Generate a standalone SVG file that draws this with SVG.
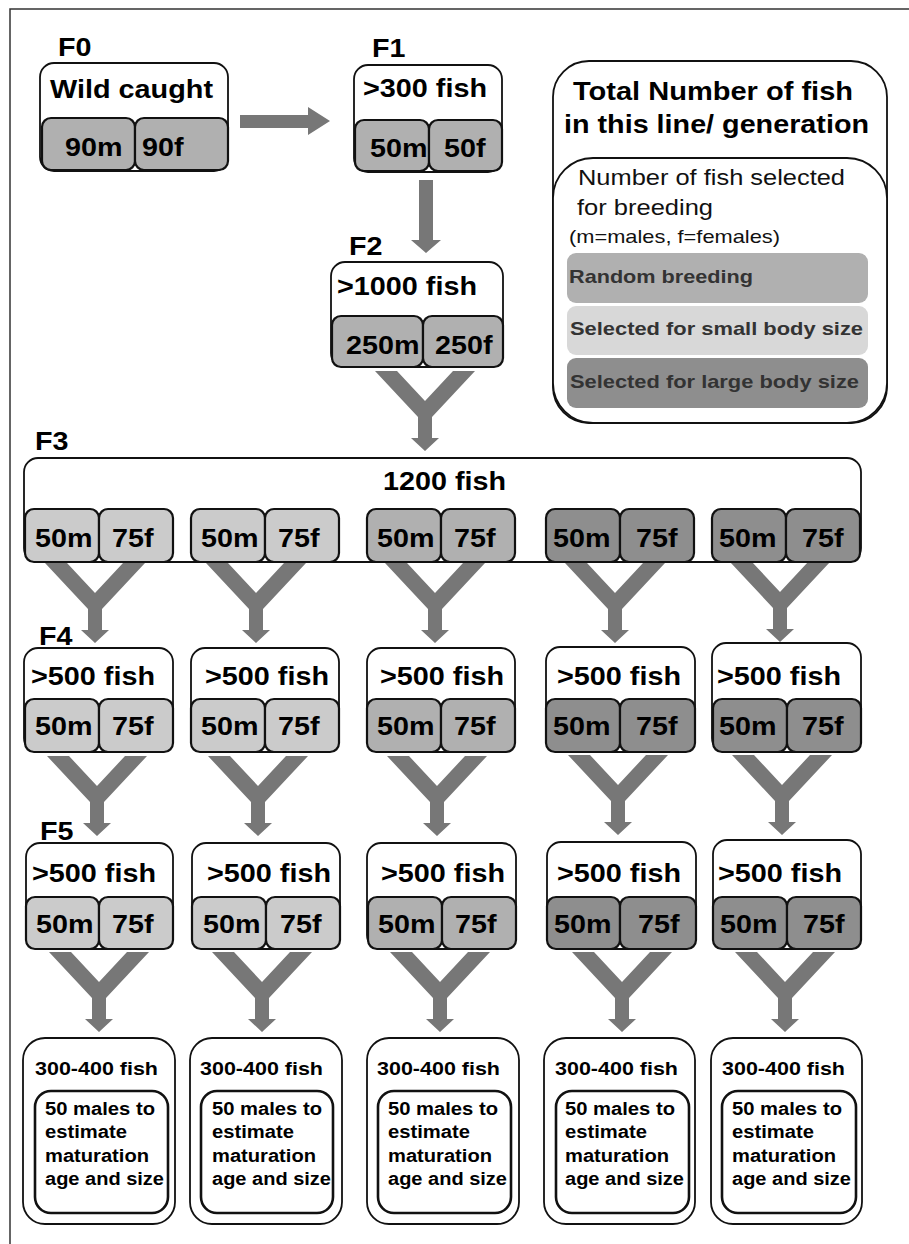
<svg xmlns="http://www.w3.org/2000/svg" xmlns:xlink="http://www.w3.org/1999/xlink" width="909" height="1244" viewBox="0 0 909 1244">
<style>
.bg{fill:#fff}
.frame{stroke:#333;stroke-width:1.5;fill:none}
.box{fill:#fff;stroke:#111;stroke-width:1.8}
.cell{stroke:#111;stroke-width:2.2}
.med{fill:#b0b0b0}
.lt{fill:#cbcbcb}
.dk{fill:#8e8e8e}
.lmed{fill:#b0b0b0}
.llt{fill:#d8d8d8}
.ldk{fill:#8e8e8e}
.inner{fill:none;stroke:#111;stroke-width:2.6}
.t{font-family:"Liberation Sans",Arial,sans-serif;font-weight:bold;fill:#000}
.r{font-family:"Liberation Sans",Arial,sans-serif;font-weight:normal;fill:#111}
.s25{font-size:25px}
.s19{font-size:19px}
.s17{font-size:17.5px}
.lg{fill:#333}
.conn{fill:#777}
</style>
<defs>
<path id="yconn" d="M-50,0 L-28,0 L0,30 L28,0 L50,0 L7,46 L7,67 L14,67 L0,80 L-14,67 L-7,67 L-7,46 Z"/>
</defs>
<rect class="bg" x="0" y="0" width="909" height="1244"/>
<path class="frame" d="M909,9 H10 V1244"/>

<g id="connectors" class="conn">
<polygon points="240,115 308,115 308,107 330,121 308,135 308,128 240,128"/>
<polygon points="419,180 433,180 433,240 441,240 426,253 411,240 419,240"/>
<use xlink:href="#yconn" href="#yconn" x="425" y="371"/>
<use xlink:href="#yconn" href="#yconn" x="95" y="563"/>
<use xlink:href="#yconn" href="#yconn" x="256" y="563"/>
<use xlink:href="#yconn" href="#yconn" x="435" y="563"/>
<use xlink:href="#yconn" href="#yconn" x="615" y="563"/>
<use xlink:href="#yconn" href="#yconn" x="780" y="562"/>
<use xlink:href="#yconn" href="#yconn" x="97" y="756"/>
<use xlink:href="#yconn" href="#yconn" x="258" y="756"/>
<use xlink:href="#yconn" href="#yconn" x="437" y="756"/>
<use xlink:href="#yconn" href="#yconn" x="618" y="755"/>
<use xlink:href="#yconn" href="#yconn" x="782" y="755"/>
<use xlink:href="#yconn" href="#yconn" x="99" y="952"/>
<use xlink:href="#yconn" href="#yconn" x="262" y="952"/>
<use xlink:href="#yconn" href="#yconn" x="440" y="952"/>
<use xlink:href="#yconn" href="#yconn" x="622" y="952"/>
<use xlink:href="#yconn" href="#yconn" x="785" y="952"/>
</g>

<g id="F0">
<text class="t s25" x="58" y="56" textLength="33.5" lengthAdjust="spacingAndGlyphs">F0</text>
<rect class="box" x="40" y="63" width="188" height="108" rx="14"/>
<text class="t s25" x="50" y="98" textLength="163" lengthAdjust="spacingAndGlyphs">Wild caught</text>
<rect class="cell med" x="42" y="118" width="93" height="52" rx="9"/>
<rect class="cell med" x="135" y="118" width="93" height="52" rx="9"/>
<text class="t s25" x="65" y="156" textLength="57.5" lengthAdjust="spacingAndGlyphs">90m</text>
<text class="t s25" x="142" y="156" textLength="41.5" lengthAdjust="spacingAndGlyphs">90f</text>
</g>

<g id="F1">
<text class="t s25" x="372" y="57" textLength="33.5" lengthAdjust="spacingAndGlyphs">F1</text>
<rect class="box" x="354" y="65" width="148" height="107" rx="14"/>
<text class="t s25" x="363" y="97" textLength="124" lengthAdjust="spacingAndGlyphs">&gt;300 fish</text>
<rect class="cell med" x="355" y="120" width="74" height="51" rx="9"/>
<rect class="cell med" x="429" y="120" width="73" height="51" rx="9"/>
<text class="t s25" x="370" y="157" textLength="57.5" lengthAdjust="spacingAndGlyphs">50m</text>
<text class="t s25" x="444" y="157" textLength="41.5" lengthAdjust="spacingAndGlyphs">50f</text>
</g>

<g id="F2">
<text class="t s25" x="349" y="255" textLength="33.5" lengthAdjust="spacingAndGlyphs">F2</text>
<rect class="box" x="331" y="262" width="172" height="105" rx="14"/>
<text class="t s25" x="337" y="295" textLength="140" lengthAdjust="spacingAndGlyphs">&gt;1000 fish</text>
<rect class="cell med" x="332" y="316" width="91" height="51" rx="9"/>
<rect class="cell med" x="423" y="316" width="80" height="51" rx="9"/>
<text class="t s25" x="346" y="354" textLength="73.5" lengthAdjust="spacingAndGlyphs">250m</text>
<text class="t s25" x="435" y="354" textLength="57.5" lengthAdjust="spacingAndGlyphs">250f</text>
</g>

<g id="legend">
<rect class="box" x="553" y="61" width="334" height="362" rx="36"/>
<rect class="box" x="553" y="158" width="334" height="265" rx="40"/>
<text class="t s25" x="573" y="100" textLength="280" lengthAdjust="spacingAndGlyphs">Total Number of fish</text>
<text class="t s25" x="564" y="133" textLength="305" lengthAdjust="spacingAndGlyphs">in this line/ generation</text>
<text class="r" style="font-size:22px" x="578" y="185" textLength="267" lengthAdjust="spacingAndGlyphs">Number of fish selected</text>
<text class="r" style="font-size:22px" x="577" y="215" textLength="136" lengthAdjust="spacingAndGlyphs">for breeding</text>
<text class="r" style="font-size:18.5px" x="569" y="243" textLength="211" lengthAdjust="spacingAndGlyphs">(m=males, f=females)</text>
<rect class="lmed" x="567" y="253" width="301" height="50" rx="9"/>
<rect class="llt" x="567" y="306" width="301" height="49" rx="9"/>
<rect class="ldk" x="567" y="358" width="301" height="50" rx="9"/>
<text class="t s19 lg" x="569" y="283" textLength="184" lengthAdjust="spacingAndGlyphs">Random breeding</text>
<text class="t s19 lg" x="570" y="335" textLength="293" lengthAdjust="spacingAndGlyphs">Selected for small body size</text>
<text class="t s19 lg" x="570" y="388" textLength="289" lengthAdjust="spacingAndGlyphs">Selected for large body size</text>
</g>

<g id="F3">
<text class="t s25" x="35" y="450" textLength="33.5" lengthAdjust="spacingAndGlyphs">F3</text>
<rect class="box" x="24" y="458" width="837" height="104" rx="14"/>
<text class="t s25" x="383" y="490" textLength="123" lengthAdjust="spacingAndGlyphs">1200 fish</text>
<rect class="cell lt" x="25" y="509" width="74" height="53" rx="9"/>
<rect class="cell lt" x="99" y="509" width="74" height="53" rx="9"/>
<rect class="cell lt" x="191" y="509" width="74" height="53" rx="9"/>
<rect class="cell lt" x="265" y="509" width="74" height="53" rx="9"/>
<rect class="cell med" x="367" y="509" width="74" height="53" rx="9"/>
<rect class="cell med" x="441" y="509" width="74" height="53" rx="9"/>
<rect class="cell dk" x="546" y="509" width="74" height="53" rx="9"/>
<rect class="cell dk" x="620" y="509" width="74" height="53" rx="9"/>
<rect class="cell dk" x="712" y="509" width="74" height="53" rx="9"/>
<rect class="cell dk" x="786" y="509" width="74" height="53" rx="9"/>
<text class="t s25" x="35" y="547" textLength="57.5" lengthAdjust="spacingAndGlyphs">50m</text>
<text class="t s25" x="112" y="547" textLength="41.5" lengthAdjust="spacingAndGlyphs">75f</text>
<text class="t s25" x="201" y="547" textLength="57.5" lengthAdjust="spacingAndGlyphs">50m</text>
<text class="t s25" x="278" y="547" textLength="41.5" lengthAdjust="spacingAndGlyphs">75f</text>
<text class="t s25" x="377" y="547" textLength="57.5" lengthAdjust="spacingAndGlyphs">50m</text>
<text class="t s25" x="454" y="547" textLength="41.5" lengthAdjust="spacingAndGlyphs">75f</text>
<text class="t s25" x="553" y="547" textLength="57.5" lengthAdjust="spacingAndGlyphs">50m</text>
<text class="t s25" x="636" y="547" textLength="41.5" lengthAdjust="spacingAndGlyphs">75f</text>
<text class="t s25" x="719" y="547" textLength="57.5" lengthAdjust="spacingAndGlyphs">50m</text>
<text class="t s25" x="802" y="547" textLength="41.5" lengthAdjust="spacingAndGlyphs">75f</text>
</g>

<g id="F4-label">
<text class="t s25" x="39" y="645" textLength="33.5" lengthAdjust="spacingAndGlyphs">F4</text>
</g>
<g id="F4-1">
<rect class="box" x="24" y="648" width="149" height="104" rx="14"/>
<text class="t s25" x="31" y="685" textLength="124" lengthAdjust="spacingAndGlyphs">&gt;500 fish</text>
<rect class="cell lt" x="25" y="699" width="74" height="53" rx="9"/>
<rect class="cell lt" x="99" y="699" width="74" height="53" rx="9"/>
<text class="t s25" x="35" y="735" textLength="57.5" lengthAdjust="spacingAndGlyphs">50m</text>
<text class="t s25" x="112" y="735" textLength="41.5" lengthAdjust="spacingAndGlyphs">75f</text>
</g>
<g id="F4-2">
<rect class="box" x="191" y="648" width="148" height="104" rx="14"/>
<text class="t s25" x="205" y="685" textLength="124" lengthAdjust="spacingAndGlyphs">&gt;500 fish</text>
<rect class="cell lt" x="191" y="699" width="74" height="53" rx="9"/>
<rect class="cell lt" x="265" y="699" width="74" height="53" rx="9"/>
<text class="t s25" x="201" y="735" textLength="57.5" lengthAdjust="spacingAndGlyphs">50m</text>
<text class="t s25" x="278" y="735" textLength="41.5" lengthAdjust="spacingAndGlyphs">75f</text>
</g>
<g id="F4-3">
<rect class="box" x="367" y="648" width="148" height="104" rx="14"/>
<text class="t s25" x="380" y="685" textLength="124" lengthAdjust="spacingAndGlyphs">&gt;500 fish</text>
<rect class="cell med" x="367" y="699" width="74" height="53" rx="9"/>
<rect class="cell med" x="441" y="699" width="74" height="53" rx="9"/>
<text class="t s25" x="377" y="735" textLength="57.5" lengthAdjust="spacingAndGlyphs">50m</text>
<text class="t s25" x="454" y="735" textLength="41.5" lengthAdjust="spacingAndGlyphs">75f</text>
</g>
<g id="F4-4">
<rect class="box" x="546" y="647" width="149" height="105" rx="14"/>
<text class="t s25" x="557" y="685" textLength="124" lengthAdjust="spacingAndGlyphs">&gt;500 fish</text>
<rect class="cell dk" x="546" y="699" width="74" height="53" rx="9"/>
<rect class="cell dk" x="620" y="699" width="75" height="53" rx="9"/>
<text class="t s25" x="553" y="735" textLength="57.5" lengthAdjust="spacingAndGlyphs">50m</text>
<text class="t s25" x="636" y="735" textLength="41.5" lengthAdjust="spacingAndGlyphs">75f</text>
</g>
<g id="F4-5">
<rect class="box" x="712" y="643" width="149" height="109" rx="14"/>
<text class="t s25" x="717" y="685" textLength="124" lengthAdjust="spacingAndGlyphs">&gt;500 fish</text>
<rect class="cell dk" x="713" y="699" width="74" height="53" rx="9"/>
<rect class="cell dk" x="787" y="699" width="74" height="53" rx="9"/>
<text class="t s25" x="719" y="735" textLength="57.5" lengthAdjust="spacingAndGlyphs">50m</text>
<text class="t s25" x="802" y="735" textLength="41.5" lengthAdjust="spacingAndGlyphs">75f</text>
</g>

<g id="F5-label">
<text class="t s25" x="40" y="840" textLength="33.5" lengthAdjust="spacingAndGlyphs">F5</text>
</g>
<g id="F5-1">
<rect class="box" x="26" y="843" width="147" height="106" rx="14"/>
<text class="t s25" x="32" y="882" textLength="124" lengthAdjust="spacingAndGlyphs">&gt;500 fish</text>
<rect class="cell lt" x="26" y="897" width="73" height="52" rx="9"/>
<rect class="cell lt" x="99" y="897" width="74" height="52" rx="9"/>
<text class="t s25" x="36" y="933" textLength="57.5" lengthAdjust="spacingAndGlyphs">50m</text>
<text class="t s25" x="112" y="933" textLength="41.5" lengthAdjust="spacingAndGlyphs">75f</text>
</g>
<g id="F5-2">
<rect class="box" x="192" y="843" width="148" height="106" rx="14"/>
<text class="t s25" x="207" y="882" textLength="124" lengthAdjust="spacingAndGlyphs">&gt;500 fish</text>
<rect class="cell lt" x="192" y="897" width="74" height="52" rx="9"/>
<rect class="cell lt" x="266" y="897" width="74" height="52" rx="9"/>
<text class="t s25" x="203" y="933" textLength="57.5" lengthAdjust="spacingAndGlyphs">50m</text>
<text class="t s25" x="280" y="933" textLength="41.5" lengthAdjust="spacingAndGlyphs">75f</text>
</g>
<g id="F5-3">
<rect class="box" x="367" y="843" width="149" height="106" rx="14"/>
<text class="t s25" x="381" y="882" textLength="124" lengthAdjust="spacingAndGlyphs">&gt;500 fish</text>
<rect class="cell med" x="368" y="897" width="74" height="52" rx="9"/>
<rect class="cell med" x="442" y="897" width="74" height="52" rx="9"/>
<text class="t s25" x="378" y="933" textLength="57.5" lengthAdjust="spacingAndGlyphs">50m</text>
<text class="t s25" x="455" y="933" textLength="41.5" lengthAdjust="spacingAndGlyphs">75f</text>
</g>
<g id="F5-4">
<rect class="box" x="547" y="842" width="149" height="107" rx="14"/>
<text class="t s25" x="557" y="882" textLength="124" lengthAdjust="spacingAndGlyphs">&gt;500 fish</text>
<rect class="cell dk" x="547" y="897" width="73" height="52" rx="9"/>
<rect class="cell dk" x="620" y="897" width="76" height="52" rx="9"/>
<text class="t s25" x="554" y="933" textLength="57.5" lengthAdjust="spacingAndGlyphs">50m</text>
<text class="t s25" x="638" y="933" textLength="41.5" lengthAdjust="spacingAndGlyphs">75f</text>
</g>
<g id="F5-5">
<rect class="box" x="713" y="840" width="148" height="109" rx="14"/>
<text class="t s25" x="718" y="882" textLength="124" lengthAdjust="spacingAndGlyphs">&gt;500 fish</text>
<rect class="cell dk" x="713" y="897" width="74" height="52" rx="9"/>
<rect class="cell dk" x="787" y="897" width="74" height="52" rx="9"/>
<text class="t s25" x="720" y="933" textLength="57.5" lengthAdjust="spacingAndGlyphs">50m</text>
<text class="t s25" x="803" y="933" textLength="41.5" lengthAdjust="spacingAndGlyphs">75f</text>
</g>

<g id="end-1">
<rect class="box" x="23" y="1038" width="152" height="186" rx="22"/>
<text class="t s19" x="35" y="1075" textLength="123" lengthAdjust="spacingAndGlyphs">300-400 fish</text>
<rect class="inner" x="35" y="1091" width="133" height="122" rx="16"/>
<text class="t s17" x="45" y="1115" textLength="110" lengthAdjust="spacingAndGlyphs">50 males to</text>
<text class="t s17" x="45" y="1138" textLength="82" lengthAdjust="spacingAndGlyphs">estimate</text>
<text class="t s17" x="45" y="1162" textLength="104" lengthAdjust="spacingAndGlyphs">maturation</text>
<text class="t s17" x="45" y="1185" textLength="119" lengthAdjust="spacingAndGlyphs">age and size</text>
</g>
<g id="end-2">
<rect class="box" x="190" y="1038" width="152" height="186" rx="22"/>
<text class="t s19" x="200" y="1075" textLength="123" lengthAdjust="spacingAndGlyphs">300-400 fish</text>
<rect class="inner" x="201" y="1091" width="132" height="122" rx="16"/>
<text class="t s17" x="212" y="1115" textLength="110" lengthAdjust="spacingAndGlyphs">50 males to</text>
<text class="t s17" x="212" y="1138" textLength="82" lengthAdjust="spacingAndGlyphs">estimate</text>
<text class="t s17" x="212" y="1162" textLength="104" lengthAdjust="spacingAndGlyphs">maturation</text>
<text class="t s17" x="212" y="1185" textLength="119" lengthAdjust="spacingAndGlyphs">age and size</text>
</g>
<g id="end-3">
<rect class="box" x="367" y="1038" width="152" height="186" rx="22"/>
<text class="t s19" x="377" y="1075" textLength="123" lengthAdjust="spacingAndGlyphs">300-400 fish</text>
<rect class="inner" x="378" y="1091" width="133" height="122" rx="16"/>
<text class="t s17" x="388" y="1115" textLength="110" lengthAdjust="spacingAndGlyphs">50 males to</text>
<text class="t s17" x="388" y="1138" textLength="82" lengthAdjust="spacingAndGlyphs">estimate</text>
<text class="t s17" x="388" y="1162" textLength="104" lengthAdjust="spacingAndGlyphs">maturation</text>
<text class="t s17" x="388" y="1185" textLength="119" lengthAdjust="spacingAndGlyphs">age and size</text>
</g>
<g id="end-4">
<rect class="box" x="544" y="1038" width="151" height="186" rx="22"/>
<text class="t s19" x="555" y="1075" textLength="123" lengthAdjust="spacingAndGlyphs">300-400 fish</text>
<rect class="inner" x="556" y="1091" width="133" height="122" rx="16"/>
<text class="t s17" x="565" y="1115" textLength="110" lengthAdjust="spacingAndGlyphs">50 males to</text>
<text class="t s17" x="565" y="1138" textLength="82" lengthAdjust="spacingAndGlyphs">estimate</text>
<text class="t s17" x="565" y="1162" textLength="104" lengthAdjust="spacingAndGlyphs">maturation</text>
<text class="t s17" x="565" y="1185" textLength="119" lengthAdjust="spacingAndGlyphs">age and size</text>
</g>
<g id="end-5">
<rect class="box" x="711" y="1038" width="151" height="186" rx="22"/>
<text class="t s19" x="722" y="1075" textLength="123" lengthAdjust="spacingAndGlyphs">300-400 fish</text>
<rect class="inner" x="722" y="1091" width="134" height="122" rx="16"/>
<text class="t s17" x="732" y="1115" textLength="110" lengthAdjust="spacingAndGlyphs">50 males to</text>
<text class="t s17" x="732" y="1138" textLength="82" lengthAdjust="spacingAndGlyphs">estimate</text>
<text class="t s17" x="732" y="1162" textLength="104" lengthAdjust="spacingAndGlyphs">maturation</text>
<text class="t s17" x="732" y="1185" textLength="119" lengthAdjust="spacingAndGlyphs">age and size</text>
</g>
</svg>
